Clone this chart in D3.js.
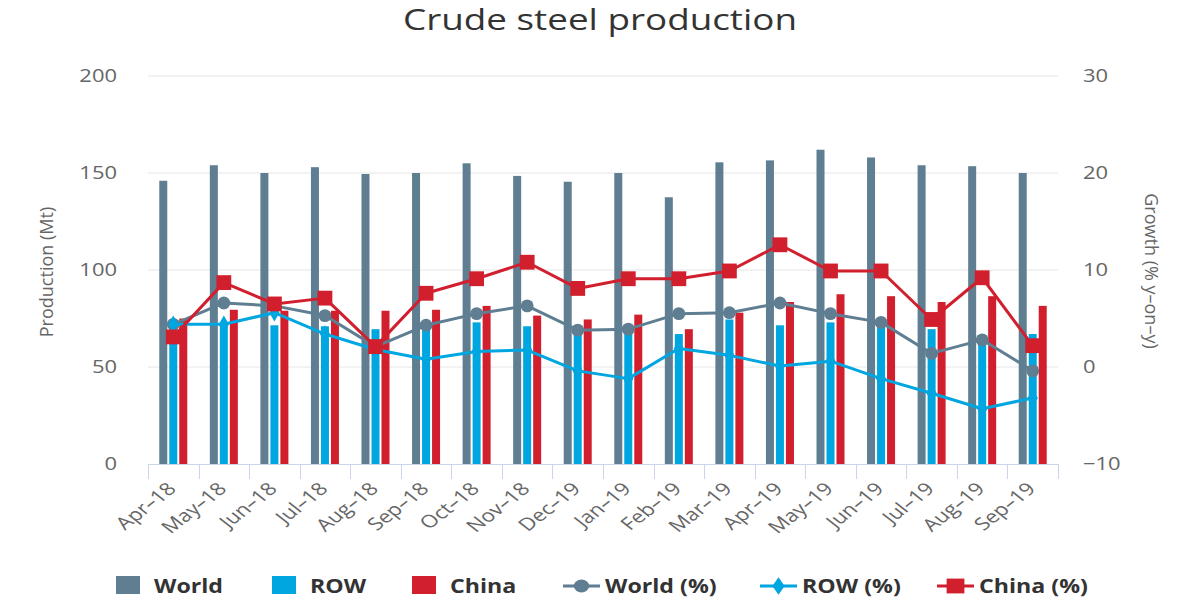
<!DOCTYPE html>
<html>
<head>
<meta charset="utf-8">
<script src="https://cdn.jsdelivr.net/npm/d3@7"></script>
<style>
  html, body { margin: 0; padding: 0; background: #fff; }
  svg { display: block; font-family: "Open Sans", sans-serif; }
</style>
</head>
<body>
<svg id="chart" width="1200" height="600"></svg>
<script>
const categories = ["Apr-18","May-18","Jun-18","Jul-18","Aug-18","Sep-18","Oct-18","Nov-18","Dec-19","Jan-19","Feb-19","Mar-19","Apr-19","May-19","Jun-19","Jul-19","Aug-19","Sep-19"];
const worldProd = [146, 154, 150, 153, 149.5, 150, 155, 148.5, 145.5, 150, 137.5, 155.5, 156.5, 162, 158, 154, 153.5, 150];
const rowProd   = [71, 72, 71.5, 71, 69.5, 70, 73, 71, 68.5, 68, 67, 74.5, 71.5, 73, 72, 69.5, 64, 67];
const chinaProd = [75, 79.5, 79, 79, 79, 79.5, 81.5, 76.5, 74.5, 77, 69.5, 78, 83.5, 87.5, 86.5, 83.5, 86.5, 81.5];
const worldPct  = [4.4, 6.6, 6.3, 5.3, 2.1, 4.3, 5.5, 6.3, 3.8, 3.9, 5.5, 5.6, 6.6, 5.5, 4.6, 1.4, 2.8, -0.4];
const rowPct    = [4.4, 4.4, 5.6, 3.4, 1.8, 0.8, 1.6, 1.75, -0.4, -1.2, 1.9, 1.2, 0.1, 0.6, -1.2, -2.7, -4.3, -3.2];
const chinaPct  = [3.1, 8.7, 6.5, 7.1, 2.1, 7.6, 9.1, 10.8, 8.1, 9.1, 9.1, 9.9, 12.6, 9.9, 9.9, 4.9, 9.2, 2.2];
const leftTicks = [0, 50, 100, 150, 200];
const rightTicks = [-10, 0, 10, 20, 30];
const barSeries = ["World", "ROW", "China"];
const lineSeries = ["World (%)", "ROW (%)", "China (%)"];

const colors = { World: "#5f7e92", ROW: "#00a6e0", China: "#d11f2e" };
const SX = 1.22; // horizontal text stretch
const svg = d3.select("#chart");

const x0 = 148, x1 = 1058, yTop = 76, yBot = 464;
const x = d3.scaleBand().domain(categories).range([x0, x1]).padding(0);
const xs = d3.scaleBand().domain(barSeries).range([-14, 14]).paddingInner(0.2);
const yL = d3.scaleLinear().domain([0, 200]).range([yBot, yTop]);
const yR = d3.scaleLinear().domain([-10, 30]).range([yBot, yTop]);

function stext(sel, px, py, txt, sx) {
  return sel.append("text").attr("transform", `translate(${px},${py}) scale(${sx || SX},1)`).text(txt);
}

// title
stext(svg, 600, 30, "Crude steel production", 1.27)
  .attr("text-anchor", "middle").attr("font-size", 29).attr("fill", "#333");

// gridlines
svg.append("g").selectAll("line").data(leftTicks.filter(d => d > 0)).join("line")
  .attr("x1", x0).attr("x2", x1).attr("y1", d => yL(d)).attr("y2", d => yL(d))
  .attr("stroke", "#e6e6e6").attr("stroke-width", 1);

// left tick labels
const gl = svg.append("g").attr("font-size", 18).attr("fill", "#666").attr("text-anchor", "end");
leftTicks.forEach(t => stext(gl, 117, yL(t) + 6, d3.format("d")(t)));
// right tick labels
const gr = svg.append("g").attr("font-size", 18).attr("fill", "#666").attr("text-anchor", "start");
rightTicks.forEach(t => stext(gr, 1083, yR(t) + 6, d3.format("d")(t).replace("-", "\u2212")));

// axis titles
svg.append("text").attr("transform", `translate(53,272) rotate(-90)`)
  .attr("text-anchor", "middle").attr("font-size", 18).attr("fill", "#666").text("Production (Mt)");
svg.append("text").attr("transform", `translate(1145,271) rotate(90)`)
  .attr("text-anchor", "middle").attr("font-size", 18).attr("fill", "#666").text("Growth (% y\u2013on\u2013y)");

// bars
const barData = [worldProd, rowProd, chinaProd];
barSeries.forEach((s, si) => {
  svg.append("g").selectAll("rect").data(barData[si]).join("rect")
    .attr("x", (d, i) => x(categories[i]) + x.bandwidth() / 2 + xs(s))
    .attr("width", xs.bandwidth())
    .attr("y", d => yL(d))
    .attr("height", d => yL(0) - yL(d))
    .attr("fill", colors[s]);
});

// x axis
const xa = svg.append("g");
xa.append("line").attr("x1", x0).attr("x2", x1).attr("y1", yBot + 0.5).attr("y2", yBot + 0.5)
  .attr("stroke", "#ccd6eb");
const bounds = categories.map(c => x(c)).concat([x1]);
xa.selectAll("line.tk").data(bounds).join("line").attr("class", "tk")
  .attr("x1", d => Math.round(d) + 0.5).attr("x2", d => Math.round(d) + 0.5)
  .attr("y1", yBot).attr("y2", yBot + 15).attr("stroke", "#ccd6eb");
xa.selectAll("text").data(categories).join("text")
  .attr("transform", d => `translate(${x(d) + x.bandwidth() / 2 + 4},${yBot + 26}) scale(1.28,1) rotate(-45)`)
  .attr("text-anchor", "end").attr("font-size", 17.5).attr("fill", "#666")
  .text(d => d.replace("-", "\u2013"));

// lines
const cx = (d, i) => x(categories[i]) + x.bandwidth() / 2;
const lineData = [worldPct, rowPct, chinaPct];
const lineColors = [colors.World, colors.ROW, colors.China];
const symbols = [d3.symbolCircle, d3.symbolDiamond, d3.symbolSquare];
const symSizes = [130, 90, 220];
lineData.forEach((arr, li) => {
  const line = d3.line().x(cx).y(d => yR(d));
  svg.append("path").datum(arr).attr("d", line).attr("fill", "none")
    .attr("stroke", lineColors[li]).attr("stroke-width", 3).attr("stroke-linejoin", "round");
  svg.append("g").selectAll("path").data(arr).join("path")
    .attr("transform", (d, i) => `translate(${cx(d, i)},${yR(d)})`)
    .attr("d", d3.symbol().type(symbols[li]).size(symSizes[li]))
    .attr("fill", lineColors[li]);
});

// legend
const lg = svg.append("g").attr("font-size", 19).attr("font-weight", "bold").attr("fill", "#333");
const rectX = [116, 272, 412];
barSeries.forEach((s, i) => {
  lg.append("rect").attr("x", rectX[i]).attr("y", 576).attr("width", 24).attr("height", 18).attr("fill", colors[s]);
  stext(lg, rectX[i] + 38, 593, s);
});
const symX = [563, 760, 937];
lineSeries.forEach((s, i) => {
  lg.append("line").attr("x1", symX[i]).attr("x2", symX[i] + 37).attr("y1", 586).attr("y2", 586)
    .attr("stroke", lineColors[i]).attr("stroke-width", 3);
  lg.append("path").attr("transform", `translate(${symX[i] + 18.5},586) scale(1.2,1)`)
    .attr("d", d3.symbol().type(symbols[i]).size(symSizes[i]))
    .attr("fill", lineColors[i]);
  stext(lg, symX[i] + 42, 593, s);
});
</script>
</body>
</html>
